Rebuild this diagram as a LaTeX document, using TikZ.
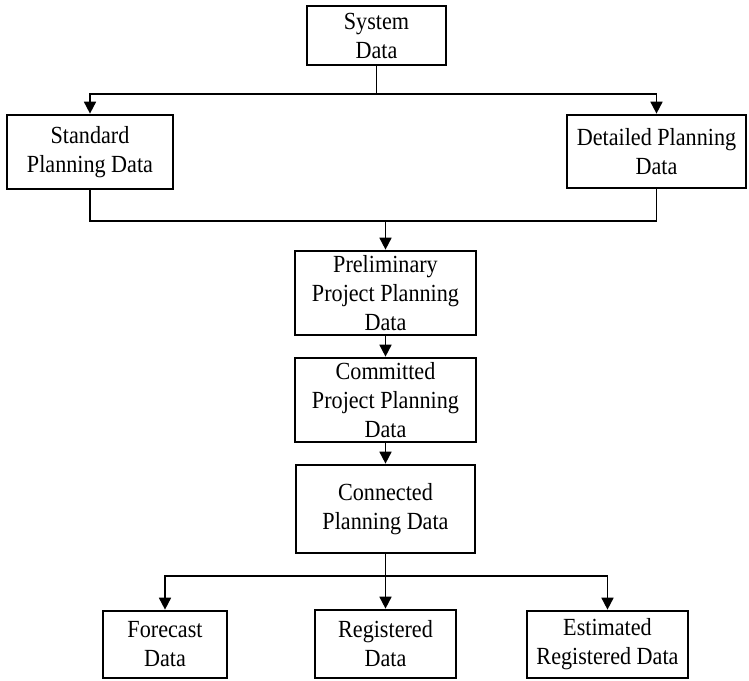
\documentclass[tikz,border=0pt]{standalone}
\usepackage{fontspec}
\setmainfont{Liberation Serif}[FakeStretch=0.9]
\usepackage{tikz}
\usetikzlibrary{arrows.meta, positioning}

\tikzset{
  databox/.style={draw, line width=1.9pt, align=center, inner sep=1pt,
    font=\fontsize{17.5}{20.6}\selectfont},
  link/.style={line width=1.2pt},
}

\begin{document}
\begin{tikzpicture}[x=0.025cm, y=-0.025cm, >={Triangle[length=0.3cm, width=0.3cm]}]
    \useasboundingbox (0,0) rectangle (749,680);

    % Boxes
    \node[databox, minimum width=3.475cm, minimum height=1.475cm] (sys) at (376.5,35.5) {System\\Data};
    \node[databox, minimum width=4.15cm, minimum height=1.85cm] (std) at (90,152) {Standard\\Planning Data};
    \node[databox, minimum width=4.475cm, minimum height=1.825cm] (det) at (656.5,151.5) {Detailed Planning\\Data};
    \node[databox, minimum width=4.525cm, minimum height=2.1cm] (pre) at (385.5,293) {Preliminary\\Project Planning\\Data};
    \node[databox, minimum width=4.525cm, minimum height=2.1cm] (com) at (385.5,400) {Committed\\Project Planning\\Data};
    \node[databox, minimum width=4.475cm, minimum height=2.2cm] (con) at (385.5,509) {Connected\\Planning Data};
    \node[databox, minimum width=3.1cm, minimum height=1.675cm] (fc) at (165,644.5) {Forecast\\Data};
    \node[databox, minimum width=3.525cm, minimum height=1.7cm] (reg) at (385.5,644) {Registered\\Data};
    \node[databox, minimum width=4.025cm, minimum height=1.675cm] (est) at (607.5,644.5) {Estimated\\Registered Data};

    % Junctions
    \coordinate (split) at (376.5,94);
    \coordinate (merge) at (385.5,221);
    \coordinate (fork) at (385.5,576);

    % Arrows
    \draw[link] (sys) -- (split);
    \draw[link,->] (split) -| (std.north);
    \draw[link,->] (split) -| (det.north);
    \draw[link] (std.south) |- (merge);
    \draw[link] (det.south) |- (merge);
    \draw[link,->] (merge) -- (pre);
    \draw[link,->] (pre) -- (com);
    \draw[link,->] (com) -- (con);
    \draw[link] (con) -- (fork);
    \draw[link,->] (fork) -| (fc.north);
    \draw[link,->] (fork) -- (reg);
    \draw[link,->] (fork) -| (est.north);
\end{tikzpicture}
\end{document}
